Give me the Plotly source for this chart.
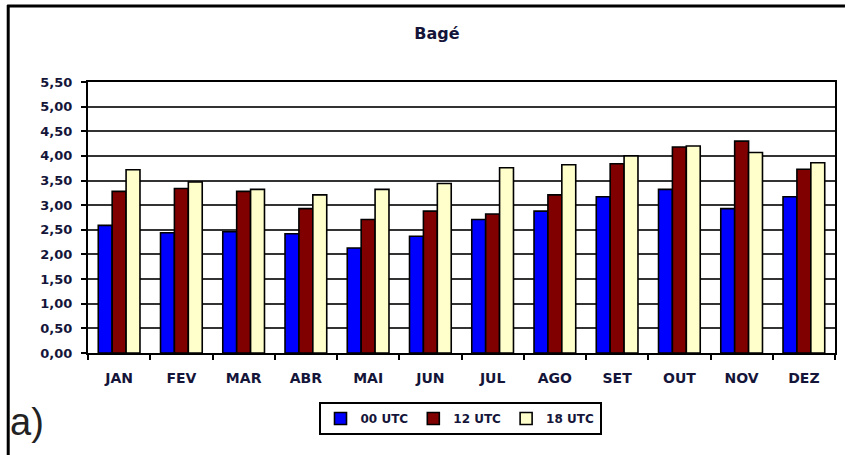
import plotly.graph_objects as go

months = ["JAN", "FEV", "MAR", "ABR", "MAI", "JUN", "JUL", "AGO", "SET", "OUT", "NOV", "DEZ"]
utc00 = [2.59, 2.44, 2.46, 2.42, 2.13, 2.37, 2.71, 2.88, 3.17, 3.32, 2.93, 3.17]
utc12 = [3.28, 3.34, 3.28, 2.93, 2.71, 2.88, 2.82, 3.21, 3.84, 4.18, 4.30, 3.73]
utc18 = [3.72, 3.47, 3.32, 3.21, 3.32, 3.44, 3.76, 3.82, 4.00, 4.20, 4.07, 3.86]
series_names = ["00 UTC", "12 UTC", "18 UTC"]
colors = ["#0000FF", "#800000", "#FFFFCC"]

W, H = 846, 455
L, R, T, B = 88, 837, 82, 353


def px_x(p):
    return (p - L) / (R - L)


def px_y(p):
    return (B - p) / (B - T)


fig = go.Figure()
for name, vals, col in zip(series_names, [utc00, utc12, utc18], colors):
    fig.add_trace(go.Bar(
        x=months, y=vals, name=name,
        marker=dict(color=col, line=dict(color="#000000", width=1.6)),
    ))

ytick_font = dict(family="DejaVu Sans", size=13, color="#15153a", weight="bold")
xtick_font = dict(family="DejaVu Sans", size=14, color="#15153a", weight="bold")

fig.update_layout(
    width=W, height=H,
    margin=dict(l=L, r=W - R, t=T, b=H - B),
    paper_bgcolor="white", plot_bgcolor="white",
    barmode="group", bargap=0.33, bargroupgap=0,
    separators=",.",
    title=dict(text="<b>Bagé</b>", x=437 / W, xref="container", xanchor="center",
               y=1 - 33 / H, yanchor="middle",
               font=dict(family="DejaVu Sans", size=16, color="#15153a")),
    showlegend=True,
    legend=dict(orientation="h", x=px_x(461), xanchor="center", y=px_y(402), yanchor="top",
                bordercolor="#000000", borderwidth=2, bgcolor="white",
                font=dict(family="DejaVu Sans", size=12, color="#15153a", weight="bold"),
                traceorder="normal", itemwidth=30),
    xaxis=dict(showline=True, linecolor="#000000", linewidth=2, mirror=True,
               ticks="outside", tickson="boundaries", ticklen=5, tickcolor="#000000", tickwidth=1.5,
               tickfont=xtick_font, ticklabelstandoff=11, showgrid=False),
    yaxis=dict(range=[0, 5.5], dtick=0.5, tick0=0, tickformat=".2f",
               showline=True, linecolor="#000000", linewidth=2, mirror=True,
               ticks="outside", ticklen=5, tickcolor="#000000", tickwidth=1.5,
               tickfont=ytick_font, ticklabelstandoff=6,
               showgrid=True, gridcolor="#333333", gridwidth=2, zeroline=False),
    annotations=[dict(text="a)", xref="paper", yref="paper", x=px_x(8), y=px_y(422),
                      xanchor="left", yanchor="middle", showarrow=False,
                      font=dict(family="Liberation Sans", size=38, color="#222222"))],
    shapes=[
        dict(type="line", xref="paper", yref="paper", x0=px_x(8), x1=px_x(8),
             y0=px_y(5), y1=px_y(456), line=dict(color="#000000", width=3)),
        dict(type="line", xref="paper", yref="paper", x0=px_x(7), x1=px_x(847),
             y0=px_y(6), y1=px_y(6), line=dict(color="#000000", width=3)),
    ],
)

fig.write_html("out.html")
